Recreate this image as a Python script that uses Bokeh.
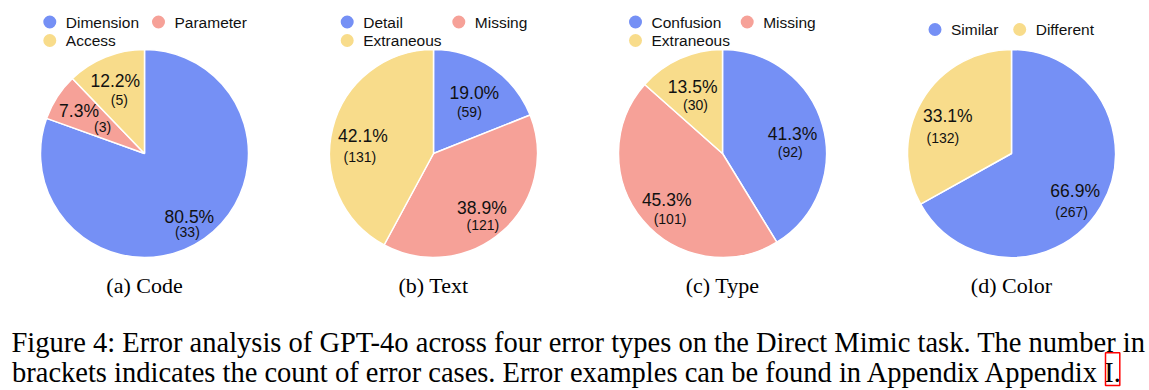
import math
from bokeh.plotting import figure
from bokeh.models import Range1d, ColumnDataSource
from bokeh.core.properties import value
from bokeh.embed import file_html
from bokeh.resources import INLINE

# ---------------- data ----------------
subtitles = ["(a) Code", "(b) Text", "(c) Type", "(d) Color"]
code_labels = ["Dimension", "Parameter", "Access"]
code_counts = [33, 3, 5]
text_labels = ["Detail", "Missing", "Extraneous"]
text_counts = [59, 121, 131]
type_labels = ["Confusion", "Missing", "Extraneous"]
type_counts = [92, 101, 30]
color_labels = ["Similar", "Different"]
color_counts = [267, 132]
caption_line1 = "Figure 4: Error analysis of GPT-4o across four error types on the Direct Mimic task. The number in"
caption_line2 = "brackets indicates the count of error cases. Error examples can be found in Appendix Appendix I."

# ---------------- styles / layout ----------------
BLUE, RED, YELLOW = "#7590F5", "#F6A198", "#F8DC8B"
pie_colors = [[BLUE, RED, YELLOW], [BLUE, RED, YELLOW], [BLUE, RED, YELLOW], [BLUE, YELLOW]]
pies = [(code_labels, code_counts), (text_labels, text_counts),
        (type_labels, type_counts), (color_labels, color_counts)]

W, H = 1149, 390


def Y(img_y):
    return H - img_y


centers_x = [144, 433, 722, 1011]
CY = 153
R = 104
pct_dist = [0.75, 0.70, 0.70, 0.71]
count_offsets = [[(-2, 15), (23.5, 16), (4, 19)],
                 [(-5, 18.4), (1, 17.5), (-3, 21)],
                 [(-2.3, 18.5), (3.3, 18.4), (2.8, 17.7)],
                 [(-3.6, 20.8), (-4.9, 21.7)]]
legend_x0 = [-94.7, -86.3, -87, -76.5]
legend_col2 = [108.7, 111.6, 111.7, 84.7]
legend_rows_y = [[21.5, 40], [21.5, 40], [21.5, 40], [29]]
SANS = value("Liberation Sans")
SERIF = value("Liberation Serif")
TXT = "#111111"

p = figure(width=W, height=H, x_range=Range1d(0, W), y_range=Range1d(0, H),
           x_axis_type=None, y_axis_type=None, toolbar_location=None,
           output_backend="svg", min_border=0)
p.outline_line_color = None
p.background_fill_color = "white"
p.border_fill_color = "white"

for k, (labels, counts) in enumerate(pies):
    cx = centers_x[k]
    total = float(sum(counts))
    fr = [c / total for c in counts]
    starts, ends, mids = [], [], []
    acc = 0.0
    for f in fr:
        a0 = math.pi / 2 - acc * 2 * math.pi
        a1 = math.pi / 2 - (acc + f) * 2 * math.pi
        starts.append(a0)
        ends.append(a1)
        mids.append((a0 + a1) / 2)
        acc += f
    src = ColumnDataSource(dict(x=[cx] * len(counts), y=[Y(CY)] * len(counts),
                                start=starts, end=ends, color=pie_colors[k]))
    p.wedge(x="x", y="y", radius=R, start_angle="start", end_angle="end",
            direction="clock", fill_color="color", line_color="white",
            line_width=1.5, source=src)

    # percentage + count labels
    px, py, ptxt, qx, qy, qtxt = [], [], [], [], [], []
    for i, c in enumerate(counts):
        d = pct_dist[k] * R
        lx = cx + d * math.cos(mids[i])
        ly = Y(CY) + d * math.sin(mids[i])
        px.append(lx)
        py.append(ly)
        ptxt.append(f"{100 * c / total:.1f}%")
        ox, oy = count_offsets[k][i]
        qx.append(lx + ox)
        qy.append(ly - oy)
        qtxt.append(f"({c})")
    p.text(x=px, y=py, text=ptxt, text_font=SANS, text_font_size="17.5px",
           text_align="center", text_baseline="middle", text_color=TXT)
    p.text(x=qx, y=qy, text=qtxt, text_font=SANS, text_font_size="14px",
           text_align="center", text_baseline="middle", text_color=TXT)

    # legend
    dx, dy, tx, ty, tt, dc = [], [], [], [], [], []
    for i, lab in enumerate(labels):
        row, col = divmod(i, 2)
        x = cx + legend_x0[k] + col * legend_col2[k]
        y = Y(legend_rows_y[k][row])
        dx.append(x)
        dy.append(y)
        dc.append(pie_colors[k][i])
        tx.append(x + 16)
        ty.append(y)
        tt.append(lab)
    p.scatter(x=dx, y=dy, size=13, marker="circle", fill_color=dc, line_color=None)
    p.text(x=tx, y=ty, text=tt, text_font=SANS, text_font_size="15.5px",
           text_align="left", text_baseline="middle", text_color=TXT)

# sub captions
p.text(x=centers_x, y=[Y(285)] * 4, text=subtitles, text_font=SERIF,
       text_font_size="22px", text_align="center", text_baseline="alphabetic",
       text_color="black")

# figure caption
p.text(x=[11, 11.5], y=[Y(341.7), Y(372.3)], text=[caption_line1, caption_line2],
       text_font=SERIF, text_font_size="28.5px", text_align="left",
       text_baseline="alphabetic", text_color="black")

# link box around the appendix reference
p.quad(left=[1105], right=[1119.3], top=[Y(352.3)], bottom=[Y(385)],
       fill_color=None, line_color="red", line_width=1.5)

open("out.html", "w").write(file_html(p, INLINE))
